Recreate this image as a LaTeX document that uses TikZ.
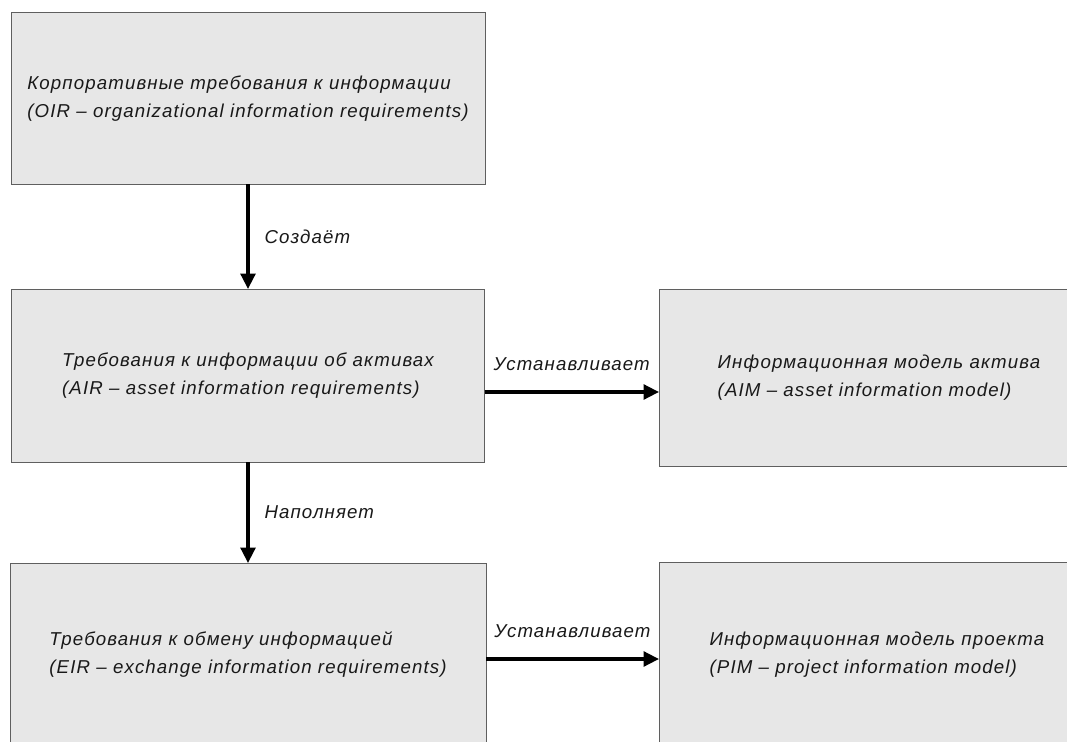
\documentclass[tikz,border=0pt]{standalone}
\usepackage{fontspec}
\setmainfont{Liberation Sans}
\newfontfamily\gostfont[LetterSpace=6]{Liberation Sans}
\usetikzlibrary{arrows.meta}
\definecolor{boxfill}{RGB}{231,231,231}
\definecolor{boxline}{RGB}{95,95,95}
\definecolor{txt}{RGB}{25,25,25}
\begin{document}
\begin{tikzpicture}[x=0.75pt,y=-0.75pt,
  box/.style={draw=boxline, fill=boxfill, line width=0.75pt, inner sep=0pt, outer sep=0pt,
    align=left, text=txt, font=\gostfont\itshape\fontsize{14}{21}\selectfont},
  arr/.style={draw=black, line width=2.5pt, -{Triangle[length=11.5pt,width=11pt]}},
  lbl/.style={text=txt, inner sep=0pt, font=\gostfont\itshape\fontsize{14}{16}\selectfont}]
\useasboundingbox (0,0) rectangle (1067,742);
\clip (-6,-6) rectangle (1073,748);
\fill[white] (-6,-6) rectangle (1073,748);
\node[box, minimum width=355.5pt, minimum height=128.25pt] (oir) at (248,98.5)
  {Корпоративные требования к информации\\(OIR – organizational information requirements)};
\node[box, minimum width=354.75pt, minimum height=129.75pt] (air) at (248,375.5)
  {Требования к информации об активах\\(AIR – asset information requirements)};
\node[box, minimum width=330pt, minimum height=132.75pt] (aim) at (879,377.5)
  {Информационная модель актива\\(AIM – asset information model)};
\node[box, minimum width=357pt, minimum height=138pt] (eir) at (248,655)
  {Требования к обмену информацией\\(EIR – exchange information requirements)};
\node[box, minimum width=327pt, minimum height=139.5pt] (pim) at (877,655)
  {Информационная модель проекта\\(PIM – project information model)};
\coordinate (h1) at (0,392);
\coordinate (h2) at (0,659);
\draw[arr] (oir.south) -- (air.north) node[lbl, midway, right=11.25pt] {Создаёт};
\draw[arr] (air.south) -- (eir.north) node[lbl, midway, right=11.25pt] {Наполняет};
\draw[arr] (air.east |- h1) -- (aim.west |- h1) node[lbl, midway, above=15pt] {Устанавливает};
\draw[arr] (eir.east |- h2) -- (pim.west |- h2) node[lbl, midway, above=15pt] {Устанавливает};
\end{tikzpicture}
\end{document}
